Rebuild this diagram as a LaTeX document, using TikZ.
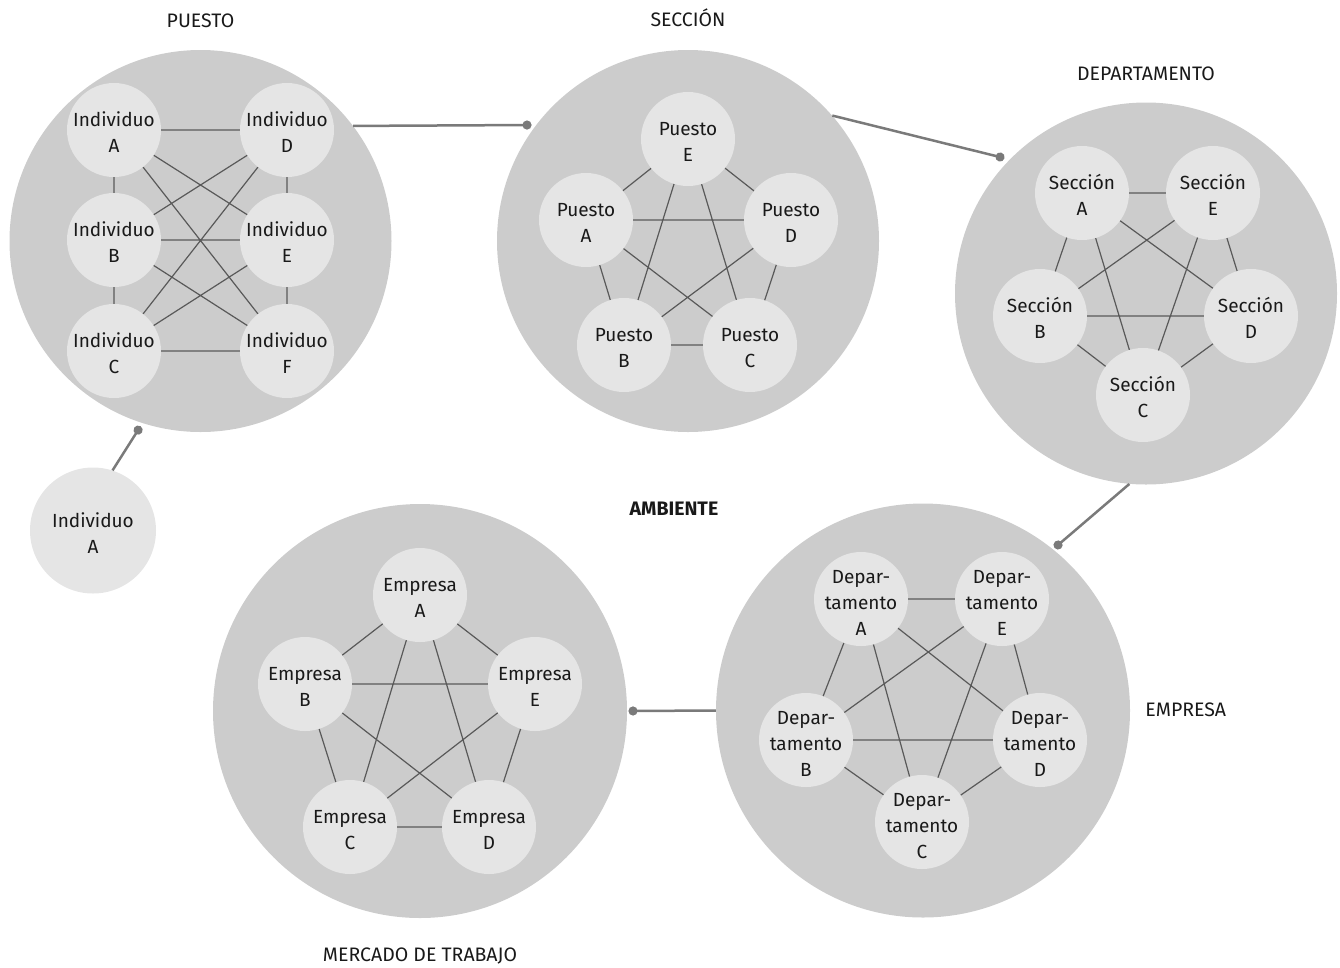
\documentclass[tikz,border=0pt]{standalone}
\usepackage{fontspec}
\setmainfont{Fira Sans}
\usetikzlibrary{positioning,arrows.meta}

\tikzset{
    ambito/.style={circle, fill=black!20, minimum size=382pt, inner sep=0pt},
    miembro/.style={circle, fill=black!10, minimum size=94pt, inner sep=-6pt,
        align=center, text=black!90, text height=45pt, text depth=0pt,
        font=\fontsize{19}{26}\selectfont},
    miembro3/.style={miembro, text height=72pt},
    enlace/.style={draw=black!65, line width=1.2pt},
    conector/.style={draw=black!52, line width=2.5pt, -{Circle[length=9pt,width=9pt]}},
    titulo/.style={inner sep=0pt, text height=12pt, text depth=0pt, text=black!90,
        font=\fontsize{19.5}{22}\selectfont}
}

\begin{document}
\begin{tikzpicture}[x=1pt, y=-1pt]
\useasboundingbox (0,0) rectangle (1340,967);

% circulos grandes
\node[ambito] (puesto) at (200.5,241) {};
\node[ambito] (seccion) at (688,241) {};
\node[ambito] (departamento) at (1146,293.5) {};
\node[ambito, minimum size=414pt] (empresa) at (923,710.5) {};
\node[ambito, minimum size=414pt] (mercado) at (420,711) {};

\node[titulo, above=22pt of puesto] (tPuesto) {PUESTO};
\node[titulo, above=23pt of seccion] (tSeccion) {SECCIÓN};
\node[titulo, above=22pt of departamento] (tDepartamento) {DEPARTAMENTO};
\node[titulo, right=15pt of empresa] (tEmpresa) {EMPRESA};
\node[titulo, below=31pt of mercado] (tMercado) {MERCADO DE TRABAJO};
\node[titulo, font=\fontsize{19.5}{22}\selectfont\bfseries] (tAmbiente) at (674,509) {AMBIENTE};

% puesto
\node[miembro] (indA) at (114,130) {Individuo\\A};
\node[miembro] (indD) at (287,130) {Individuo\\D};
\node[miembro] (indB) at (114,240) {Individuo\\B};
\node[miembro] (indE) at (287,240) {Individuo\\E};
\node[miembro] (indC) at (114,351) {Individuo\\C};
\node[miembro] (indF) at (287,351) {Individuo\\F};
\draw[enlace] (indA) -- (indD) (indA) -- (indB) (indB) -- (indC) (indD) -- (indE)
    (indE) -- (indF) (indC) -- (indF) (indB) -- (indE) (indA) -- (indE)
    (indA) -- (indF) (indD) -- (indB) (indD) -- (indC) (indB) -- (indF)
    (indE) -- (indC);

% seccion
\node[miembro] (pueE) at (688,139) {Puesto\\E};
\node[miembro] (pueA) at (586,220) {Puesto\\A};
\node[miembro] (pueD) at (791,220) {Puesto\\D};
\node[miembro] (pueB) at (624,345) {Puesto\\B};
\node[miembro] (pueC) at (750,345) {Puesto\\C};
\draw[enlace] (pueE) -- (pueA) (pueE) -- (pueD) (pueA) -- (pueD) (pueA) -- (pueB)
    (pueD) -- (pueC) (pueB) -- (pueC) (pueE) -- (pueB) (pueE) -- (pueC)
    (pueA) -- (pueC) (pueD) -- (pueB);

% departamento
\node[miembro] (secA) at (1082,193) {Sección\\A};
\node[miembro] (secE) at (1213,193) {Sección\\E};
\node[miembro] (secB) at (1040,316) {Sección\\B};
\node[miembro] (secD) at (1251,316) {Sección\\D};
\node[miembro] (secC) at (1143,395) {Sección\\C};
\draw[enlace] (secA) -- (secE) (secA) -- (secB) (secE) -- (secD) (secB) -- (secC)
    (secD) -- (secC) (secA) -- (secD) (secE) -- (secB) (secA) -- (secC)
    (secE) -- (secC) (secB) -- (secD);

% empresa
\node[miembro3] (depA) at (861,599) {Depar-\\tamento\\A};
\node[miembro3] (depE) at (1002,599) {Depar-\\tamento\\E};
\node[miembro3] (depB) at (806,740) {Depar-\\tamento\\B};
\node[miembro3] (depD) at (1040,740) {Depar-\\tamento\\D};
\node[miembro3] (depC) at (922,822) {Depar-\\tamento\\C};
\draw[enlace] (depA) -- (depE) (depA) -- (depB) (depE) -- (depD) (depB) -- (depC)
    (depD) -- (depC) (depA) -- (depD) (depE) -- (depB) (depA) -- (depC)
    (depE) -- (depC) (depB) -- (depD);

% mercado de trabajo
\node[miembro] (empA) at (420,595) {Empresa\\A};
\node[miembro] (empB) at (305,684) {Empresa\\B};
\node[miembro] (empE) at (535,684) {Empresa\\E};
\node[miembro] (empC) at (350,827) {Empresa\\C};
\node[miembro] (empD) at (489,827) {Empresa\\D};
\draw[enlace] (empA) -- (empB) (empA) -- (empE) (empB) -- (empE) (empB) -- (empC)
    (empE) -- (empD) (empC) -- (empD) (empA) -- (empC) (empA) -- (empD)
    (empB) -- (empD) (empE) -- (empC);

\node[miembro, minimum size=126pt] (individuo) at (93,530.5) {Individuo\\A};

% conectores
\coordinate (pPuesto) at (140.5,426.3);
\coordinate (pSeccion) at (531.5,125);
\coordinate (pDepartamento) at (1004.4,158.1);
\coordinate (pEmpresa) at (1054.6,547.9);
\coordinate (pMercado) at (628.5,711);
\draw[conector] (individuo.72.8) -- (pPuesto);
\draw[conector] (puesto.37.4) -- (pSeccion);
\draw[conector] (seccion.41.8) -- (pDepartamento);
\draw[conector] (departamento.265.8) -- (pEmpresa);
\draw[conector] (empresa.west) -- (pMercado);
\end{tikzpicture}
\end{document}
